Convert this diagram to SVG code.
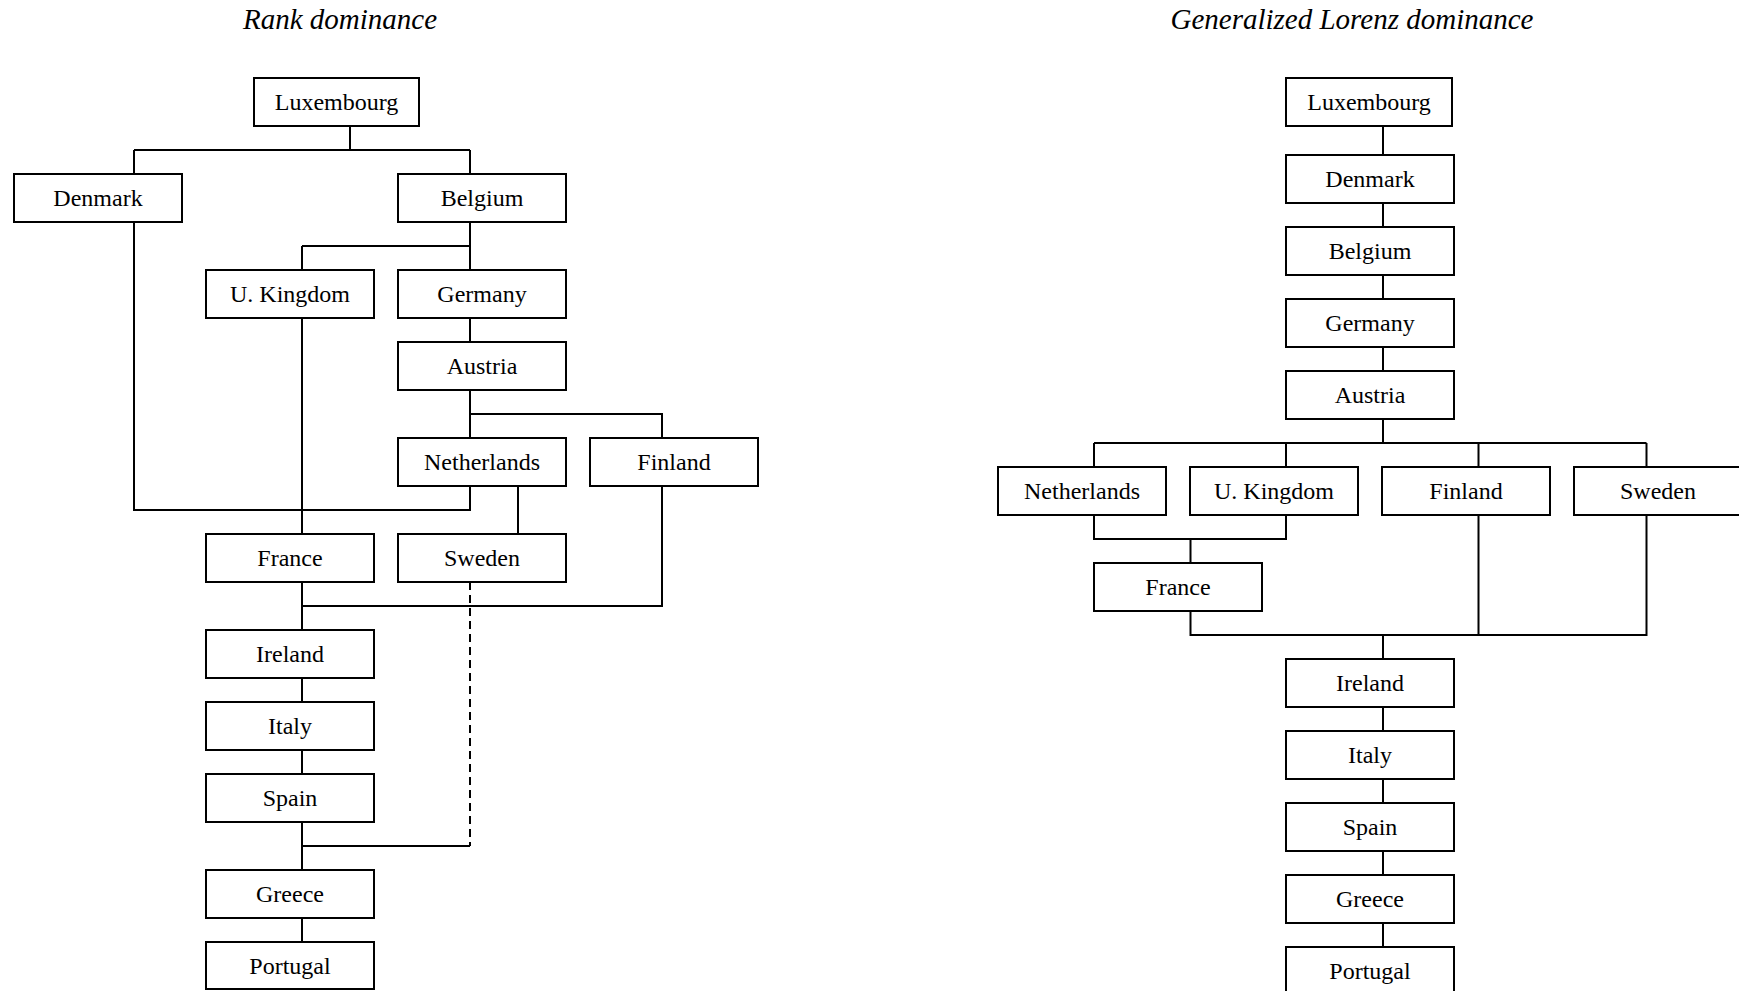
<svg xmlns="http://www.w3.org/2000/svg" width="1739" height="991" viewBox="0 0 1739 991">
<style>
.box{fill:#fff;stroke:#000;stroke-width:2}
.lbl{font-family:"Liberation Serif","Times New Roman",serif;font-size:24px;text-anchor:middle;fill:#000}
.title{font-family:"Liberation Serif","Times New Roman",serif;font-size:29px;font-style:italic;text-anchor:middle;fill:#000}
.ln{fill:none;stroke:#000;stroke-width:2}
.dash{fill:none;stroke:#000;stroke-width:2;stroke-dasharray:8 5}
</style>
<rect width="1739" height="991" fill="#fff"/>
<text class="title" x="340" y="29">Rank dominance</text>
<text class="title" x="1352" y="29">Generalized Lorenz dominance</text>
<g id="connectors-left">
<path class="ln" d="M350,126V150M134,150H470M134,150V174M470,150V174"/>
<path class="ln" d="M470,222V246M302,246H470M302,246V270M470,246V270"/>
<path class="ln" d="M470,318V342"/>
<path class="ln" d="M470,390V414H662V438M470,414V438"/>
<path class="ln" d="M134,222V510H470V486"/>
<path class="ln" d="M302,318V534"/>
<path class="ln" d="M518,486V534"/>
<path class="ln" d="M302,582V630M302,606H662V486"/>
<path class="ln" d="M302,678V702M302,750V774M302,822V870M302,846H470"/>
<path class="dash" d="M470,582V846"/>
<path class="ln" d="M302,918V942"/>
</g>
<g id="connectors-right">
<path class="ln" d="M1383,126V155M1383,203V227M1383,275V299M1383,347V371"/>
<path class="ln" d="M1383,419V443M1094,443H1646.5M1094,443V467M1286,443V467M1478.5,443V467M1646.5,443V467"/>
<path class="ln" d="M1094,515V539H1286V515M1190.5,539V563"/>
<path class="ln" d="M1190.5,611V635H1646.5V515M1478.5,515V635M1383,635V659"/>
<path class="ln" d="M1383,707V731M1383,779V803M1383,851V875M1383,923V947"/>
</g>
<g id="L-luxembourg"><rect class="box" x="254" y="78" width="165" height="48"/><text class="lbl" x="336.5" y="109.5">Luxembourg</text></g>
<g id="L-denmark"><rect class="box" x="14" y="174" width="168" height="48"/><text class="lbl" x="98" y="205.5">Denmark</text></g>
<g id="L-belgium"><rect class="box" x="398" y="174" width="168" height="48"/><text class="lbl" x="482" y="205.5">Belgium</text></g>
<g id="L-ukingdom"><rect class="box" x="206" y="270" width="168" height="48"/><text class="lbl" x="290" y="301.5">U. Kingdom</text></g>
<g id="L-germany"><rect class="box" x="398" y="270" width="168" height="48"/><text class="lbl" x="482" y="301.5">Germany</text></g>
<g id="L-austria"><rect class="box" x="398" y="342" width="168" height="48"/><text class="lbl" x="482" y="373.5">Austria</text></g>
<g id="L-netherlands"><rect class="box" x="398" y="438" width="168" height="48"/><text class="lbl" x="482" y="469.5">Netherlands</text></g>
<g id="L-finland"><rect class="box" x="590" y="438" width="168" height="48"/><text class="lbl" x="674" y="469.5">Finland</text></g>
<g id="L-france"><rect class="box" x="206" y="534" width="168" height="48"/><text class="lbl" x="290" y="565.5">France</text></g>
<g id="L-sweden"><rect class="box" x="398" y="534" width="168" height="48"/><text class="lbl" x="482" y="565.5">Sweden</text></g>
<g id="L-ireland"><rect class="box" x="206" y="630" width="168" height="48"/><text class="lbl" x="290" y="661.5">Ireland</text></g>
<g id="L-italy"><rect class="box" x="206" y="702" width="168" height="48"/><text class="lbl" x="290" y="733.5">Italy</text></g>
<g id="L-spain"><rect class="box" x="206" y="774" width="168" height="48"/><text class="lbl" x="290" y="805.5">Spain</text></g>
<g id="L-greece"><rect class="box" x="206" y="870" width="168" height="48"/><text class="lbl" x="290" y="901.5">Greece</text></g>
<g id="L-portugal"><rect class="box" x="206" y="942" width="168" height="47"/><text class="lbl" x="290" y="973.5">Portugal</text></g>
<g id="R-luxembourg"><rect class="box" x="1286" y="78" width="166" height="48"/><text class="lbl" x="1369" y="109.5">Luxembourg</text></g>
<g id="R-denmark"><rect class="box" x="1286" y="155" width="168" height="48"/><text class="lbl" x="1370" y="186.5">Denmark</text></g>
<g id="R-belgium"><rect class="box" x="1286" y="227" width="168" height="48"/><text class="lbl" x="1370" y="258.5">Belgium</text></g>
<g id="R-germany"><rect class="box" x="1286" y="299" width="168" height="48"/><text class="lbl" x="1370" y="330.5">Germany</text></g>
<g id="R-austria"><rect class="box" x="1286" y="371" width="168" height="48"/><text class="lbl" x="1370" y="402.5">Austria</text></g>
<g id="R-netherlands"><rect class="box" x="998" y="467" width="168" height="48"/><text class="lbl" x="1082" y="498.5">Netherlands</text></g>
<g id="R-ukingdom"><rect class="box" x="1190" y="467" width="168" height="48"/><text class="lbl" x="1274" y="498.5">U. Kingdom</text></g>
<g id="R-finland"><rect class="box" x="1382" y="467" width="168" height="48"/><text class="lbl" x="1466" y="498.5">Finland</text></g>
<g id="R-sweden"><rect class="box" x="1574" y="467" width="168" height="48"/><text class="lbl" x="1658" y="498.5">Sweden</text></g>
<g id="R-france"><rect class="box" x="1094" y="563" width="168" height="48"/><text class="lbl" x="1178" y="594.5">France</text></g>
<g id="R-ireland"><rect class="box" x="1286" y="659" width="168" height="48"/><text class="lbl" x="1370" y="690.5">Ireland</text></g>
<g id="R-italy"><rect class="box" x="1286" y="731" width="168" height="48"/><text class="lbl" x="1370" y="762.5">Italy</text></g>
<g id="R-spain"><rect class="box" x="1286" y="803" width="168" height="48"/><text class="lbl" x="1370" y="834.5">Spain</text></g>
<g id="R-greece"><rect class="box" x="1286" y="875" width="168" height="48"/><text class="lbl" x="1370" y="906.5">Greece</text></g>
<g id="R-portugal"><rect class="box" x="1286" y="947" width="168" height="48"/><text class="lbl" x="1370" y="978.5">Portugal</text></g>
</svg>
